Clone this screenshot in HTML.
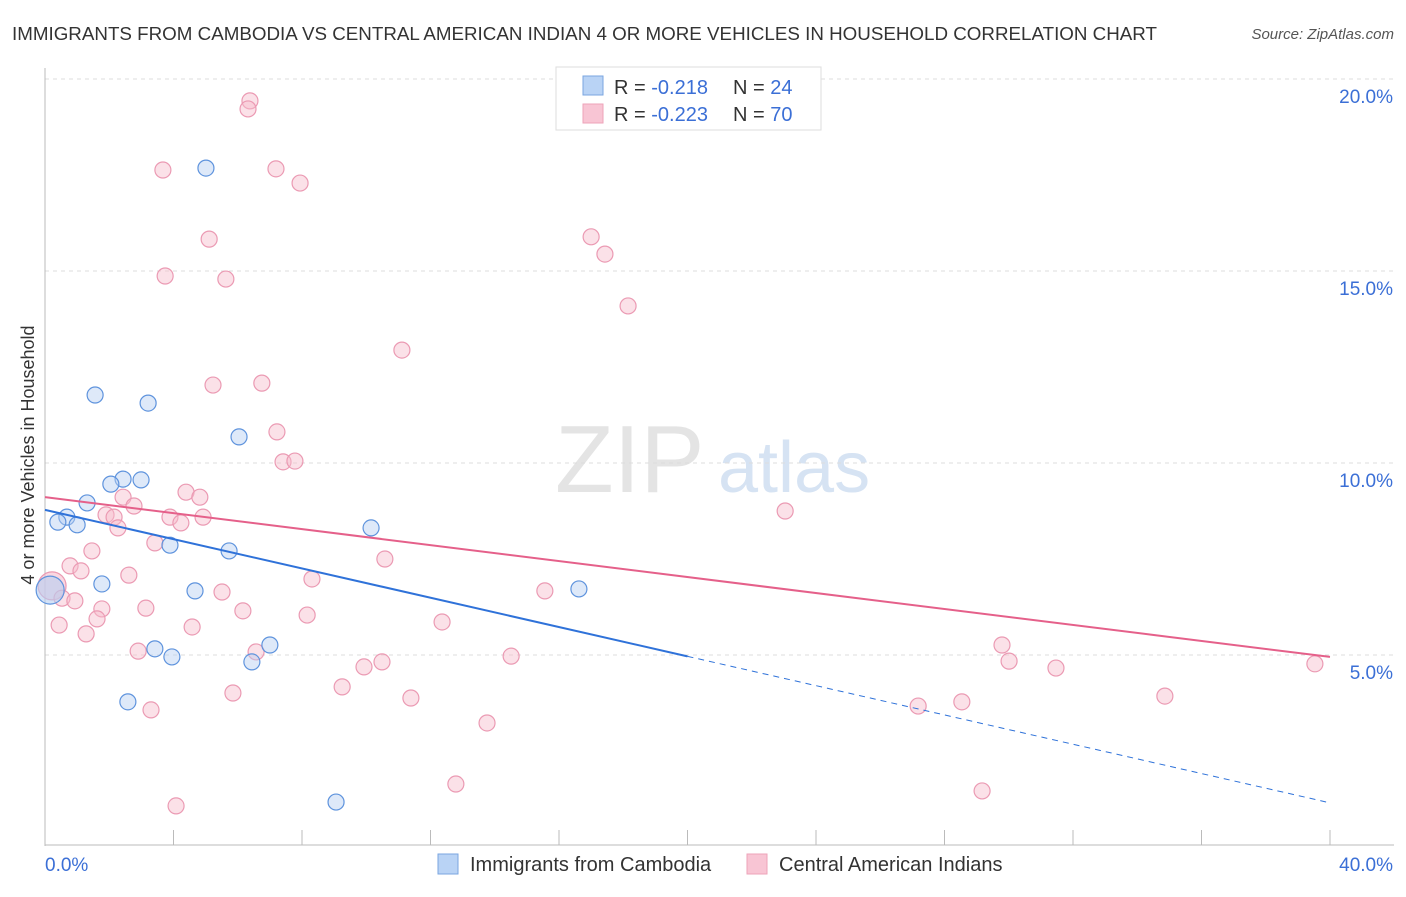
<!DOCTYPE html>
<html><head><meta charset="utf-8">
<style>
body{margin:0;background:#fff;font-family:"Liberation Sans",sans-serif;}
#wrap{position:relative;width:1406px;height:892px;}
svg text{font-family:"Liberation Sans",sans-serif;}
</style></head>
<body>
<div id="wrap">
<svg id="svg" width="1406" height="892">
<text x="12" y="40" font-size="18" fill="#333" textLength="1145" lengthAdjust="spacingAndGlyphs">IMMIGRANTS FROM CAMBODIA VS CENTRAL AMERICAN INDIAN 4 OR MORE VEHICLES IN HOUSEHOLD CORRELATION CHART</text>
<text x="1394" y="39" font-size="15" fill="#555" font-style="italic" text-anchor="end">Source: ZipAtlas.com</text>
<text x="0" y="0" transform="translate(34,455) rotate(-90)" font-size="18" fill="#333" text-anchor="middle">4 or more Vehicles in Household</text>
<text x="555" y="492" font-size="96" fill="#e4e4e4" font-family="Liberation Serif">ZIP</text>
<text x="718" y="492" font-size="72" fill="#d6e3f3">atlas</text>
<g id="grid"></g><g id="axes"></g><g id="pts"></g><g id="lines"></g>
<g>
<rect x="556" y="67" width="265" height="63" fill="#fff" stroke="#ddd"/>
<rect x="583" y="76" width="20" height="19" fill="#b9d3f5" stroke="#7aa6e0"/>
<rect x="583" y="104" width="20" height="19" fill="#f8c5d4" stroke="#eea3b9"/>
<text x="614" y="94" font-size="20" fill="#333">R = <tspan fill="#3b6fd6">-0.218</tspan><tspan x="733">N = </tspan><tspan fill="#3b6fd6">24</tspan></text>
<text x="614" y="121" font-size="20" fill="#333">R = <tspan fill="#3b6fd6">-0.223</tspan><tspan x="733">N = </tspan><tspan fill="#3b6fd6">70</tspan></text>
</g>
<g>
<rect x="438" y="854" width="20" height="20" fill="#b9d3f5" stroke="#7aa6e0"/>
<text x="470" y="871" font-size="20" fill="#333">Immigrants from Cambodia</text>
<rect x="747" y="854" width="20" height="20" fill="#f8c5d4" stroke="#eea3b9"/>
<text x="779" y="871" font-size="20" fill="#333">Central American Indians</text>
</g>
</svg>
</div>
<script>
const blueX=[5.01,1.56,3.21,6.04,2.43,2.99,2.05,1.31,0.68,0.40,1.00,10.15,3.89,5.73,1.77,4.67,16.62,0.16,3.42,3.95,7.00,6.44,2.58,9.06];
const blueY=[17.68,11.77,11.56,10.68,9.58,9.56,9.45,8.96,8.59,8.46,8.39,8.31,7.86,7.71,6.85,6.67,6.72,6.69,5.16,4.95,5.26,4.82,3.78,1.17];
const pinkX=[6.38,6.32,3.67,7.19,7.94,5.11,3.74,5.63,17.0,17.43,18.15,11.11,5.23,6.75,7.22,7.41,7.78,4.39,4.82,2.43,2.77,1.90,2.15,3.89,4.92,4.23,2.27,3.42,1.46,0.78,1.12,2.61,10.58,8.31,23.04,15.56,5.51,0.22,0.53,0.93,1.77,3.14,6.16,8.16,1.62,0.44,4.58,1.28,12.36,2.90,6.57,14.51,29.79,30.01,31.47,39.53,10.49,9.93,9.25,5.85,11.39,3.30,13.76,27.18,28.54,34.86,12.79,4.08,29.17];
const pinkY=[19.43,19.22,17.63,17.66,17.29,15.83,14.87,14.79,15.89,15.44,14.09,12.94,12.03,12.08,10.81,10.03,10.05,9.24,9.11,9.11,8.88,8.65,8.59,8.59,8.59,8.44,8.31,7.92,7.71,7.32,7.19,7.08,7.50,6.98,8.75,6.67,6.64,6.80,6.48,6.41,6.20,6.22,6.15,6.04,5.94,5.78,5.73,5.55,5.86,5.10,5.08,4.97,5.26,4.84,4.66,4.77,4.82,4.69,4.17,4.01,3.88,3.57,3.23,3.67,3.78,3.93,1.64,1.07,1.46];
const blueTrend=[8.78,1.15];
const blueSolidEnd=[20];
const pinkTrend=[9.11,4.95];
const yTicks=[5,10,15,20];
const xTicks=[0,4,8,12,16,20,24,28,32,36,40];
const xs=v=>45+v*32.125, ys=v=>847-v*38.4;
const NS="http://www.w3.org/2000/svg";
function mk(p,t,a){const e=document.createElementNS(NS,t);for(const k in a)e.setAttribute(k,a[k]);document.getElementById(p).appendChild(e);return e;}
yTicks.forEach(t=>{
 const g=mk('grid','line',{x1:45,x2:1394,y1:ys(t),y2:ys(t),stroke:'#ddd','stroke-dasharray':'4,4'});
 
 
 const l=mk('grid','text',{x:1393,y:ys(t)+24,'font-size':19,fill:'#3b6fd6','text-anchor':'end'});
 l.textContent=t.toFixed(1)+'%';
 
 
});
const ax=mk('axes','line',{x1:45,x2:45,y1:68,y2:846,stroke:'#bbb'});


const bx=mk('axes','line',{x1:45,x2:1394,y1:845,y2:845,stroke:'#bbb'});


xTicks.forEach(t=>{
 const e=mk('axes','line',{x1:xs(t),x2:xs(t),y1:830,y2:845,stroke:'#bbb'});
 
 
});
[[0,'0.0%','start',45],[40,'40.0%','end',1393]].forEach(d=>{
 const l=mk('axes','text',{x:d[3],y:871,'font-size':19,fill:'#3b6fd6','text-anchor':d[2]});
 l.textContent=d[1];
 
 
});
function pts(X,Y,fill,stroke,name){X.forEach((x,i)=>{
 const big=(x<0.3);
 const c=mk('pts','circle',{cx:xs(x),cy:ys(Y[i]),r:big?14:8,fill:fill,'fill-opacity':big?0.6:0.45,stroke:stroke,'stroke-width':1.2});
 
 
});}
pts(pinkX,pinkY,'#f7bccd','#eb9ab3','point-central-american');
pts(blueX,blueY,'#b5cff2','#5e93dd','point-cambodia');
const b1=mk('lines','line',{x1:xs(0),y1:ys(blueTrend[0]),x2:xs(blueSolidEnd[0]),y2:ys(blueTrend[0]+(blueTrend[1]-blueTrend[0])*blueSolidEnd[0]/40),stroke:'#2f72d9','stroke-width':2});


const b2=mk('lines','line',{x1:xs(blueSolidEnd[0]),y1:ys(blueTrend[0]+(blueTrend[1]-blueTrend[0])*blueSolidEnd[0]/40),x2:xs(40),y2:ys(blueTrend[1]),stroke:'#2f72d9','stroke-width':1,'stroke-dasharray':'6,5'});


const p1=mk('lines','line',{x1:xs(0),y1:ys(pinkTrend[0]),x2:xs(40),y2:ys(pinkTrend[1]),stroke:'#e5608a','stroke-width':2});


</script>
</body></html>
